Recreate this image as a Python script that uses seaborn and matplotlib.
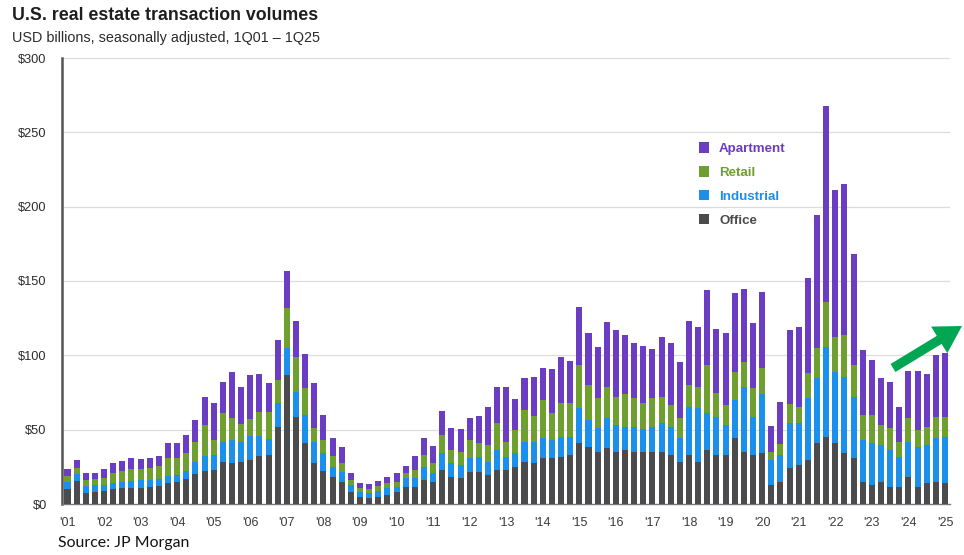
import numpy as np
import pandas as pd
import matplotlib
matplotlib.use("Agg")
import matplotlib.pyplot as plt
from matplotlib.patches import Patch
import seaborn as sns

# Quarterly transaction volumes, USD billions (1Q01 - 1Q25)
office = [10.0, 15.5, 7.5, 8.0, 8.5, 10.0, 11.0, 11.0, 11.0, 11.5, 12.0, 14.0, 15.0, 16.5, 20.0, 22.0,
          23.0, 28.5, 27.4, 28.5, 29.6, 32.0, 33.0, 52.0, 87.0, 58.8, 41.0, 27.4, 22.0, 18.4, 15.0, 8.3,
          5.0, 4.0, 5.0, 6.0, 8.3, 11.7, 11.7, 16.0, 15.0, 23.0, 18.4, 17.3, 21.8, 21.8, 19.5, 22.9,
          22.9, 25.0, 28.5, 27.4, 30.7, 30.7, 31.9, 33.0, 40.8, 38.6, 35.2, 37.5, 35.2, 36.0, 35.2, 35.2,
          35.2, 35.2, 33.0, 28.5, 33.0, 28.5, 36.3, 33.0, 33.0, 44.2, 35.2, 33.0, 34.0, 12.8, 15.0, 24.0,
          26.2, 29.6, 40.8, 45.3, 40.8, 34.0, 30.7, 15.0, 12.8, 15.0, 11.7, 11.7, 18.4, 11.7, 13.9, 15.0,
          13.9]
industrial = [5.0, 4.5, 4.5, 4.5, 4.0, 4.0, 4.0, 4.5, 5.0, 4.5, 5.0, 4.5, 4.5, 5.5, 8.0, 10.0,
              10.0, 13.5, 15.6, 13.5, 16.4, 14.0, 11.0, 15.7, 18.0, 16.8, 19.0, 14.6, 12.0, 6.6, 6.8, 4.5,
              3.3, 3.6, 4.0, 4.5, 3.4, 5.6, 5.6, 9.0, 5.6, 11.0, 9.0, 8.9, 8.9, 10.1, 9.0, 13.4,
              9.0, 9.0, 13.5, 14.6, 13.5, 12.3, 13.4, 12.3, 23.6, 17.9, 15.8, 20.1, 18.0, 16.0, 16.8, 15.0,
              16.8, 19.1, 19.0, 15.7, 32.5, 35.9, 24.7, 25.8, 20.2, 25.8, 43.8, 25.8, 40.0, 16.8, 18.0, 30.3,
              28.1, 42.0, 43.8, 60.6, 48.2, 51.7, 41.5, 28.0, 28.0, 24.7, 24.6, 20.2, 23.5, 26.9, 25.8, 29.2,
              31.4]
retail = [3.5, 4.0, 4.0, 4.0, 5.0, 7.0, 7.5, 8.0, 7.5, 8.0, 8.5, 12.5, 11.5, 12.0, 14.0, 21.0,
          10.0, 19.0, 14.6, 12.0, 11.0, 16.0, 18.0, 15.7, 26.7, 23.4, 18.0, 9.0, 9.0, 7.0, 5.6, 3.2,
          2.7, 2.4, 3.0, 3.9, 3.3, 3.3, 5.7, 8.0, 6.8, 12.4, 8.9, 9.0, 12.3, 8.9, 11.2, 18.0,
          10.1, 15.8, 21.3, 17.2, 25.8, 18.0, 22.4, 22.4, 29.1, 23.5, 20.1, 21.4, 19.0, 22.0, 19.1, 17.5,
          19.1, 17.9, 14.6, 13.4, 14.5, 14.6, 32.5, 15.7, 13.4, 19.0, 16.8, 19.0, 17.3, 5.6, 7.2, 12.7,
          11.2, 16.4, 20.2, 30.3, 23.6, 28.0, 21.3, 16.9, 19.1, 13.5, 14.6, 10.0, 15.7, 11.2, 12.3, 14.6,
          13.5]
apartment = [5.1, 5.6, 4.6, 4.1, 6.1, 6.4, 6.4, 7.2, 6.8, 6.7, 6.8, 9.8, 9.8, 12.2, 14.5, 19.0,
             24.7, 21.0, 31.4, 25.0, 30.0, 25.5, 19.7, 27.0, 25.3, 24.4, 23.0, 30.2, 17.0, 12.2, 10.9, 5.0,
             3.4, 3.5, 3.5, 4.0, 5.6, 5.0, 9.5, 11.6, 11.9, 16.4, 15.1, 15.0, 15.0, 18.5, 25.3, 24.7,
             36.5, 20.6, 21.3, 26.0, 21.7, 29.8, 31.0, 28.5, 38.8, 34.8, 34.3, 43.7, 44.8, 39.5, 37.5, 38.6,
             33.2, 39.8, 41.4, 38.2, 43.4, 39.9, 50.5, 43.0, 48.7, 52.8, 48.7, 43.8, 51.6, 17.3, 28.2, 50.0,
             53.8, 64.3, 89.7, 131.2, 98.7, 101.4, 74.5, 43.7, 37.0, 31.4, 31.0, 23.6, 31.9, 39.7, 35.3, 41.5,
             43.0]

quarters = [f"{q}Q{y:02d}" for y in range(1, 26) for q in range(1, 5)][:len(office)]
year_labels = ["'01", "'02", "'03", "'04", "'05", "'06", "'07", "'08", "'09", "'10", "'11", "'12",
               "'13", "'14", "'15", "'16", "'17", "'18", "'19", "'20", "'21", "'22", "'23", "'24", "'25"]
y_ticks = [0, 50, 100, 150, 200, 250, 300]

series = ["Office", "Industrial", "Retail", "Apartment"]
colors = {"Office": "#4b4b4d", "Industrial": "#1a90ec", "Retail": "#6e9f2f", "Apartment": "#6a3dc2"}

df = pd.DataFrame({"quarter": quarters, "Office": office, "Industrial": industrial,
                   "Retail": retail, "Apartment": apartment})
cum = df[series].cumsum(axis=1)
for s in series:
    df["top_" + s] = cum[s]

sns.set_theme(style="white")
plt.rcParams["font.family"] = ["Liberation Sans", "DejaVu Sans"]

W, H = 964, 555
fig = plt.figure(figsize=(W / 100, H / 100), dpi=100)
ax = fig.add_axes([62 / W, 1 - 504 / H, (950 - 62) / W, (504 - 58) / H])

# stacked bars: draw cumulative totals from the top layer down
for s in reversed(series):
    sns.barplot(data=df, x="quarter", y="top_" + s, order=quarters, color=colors[s],
                width=0.66, linewidth=0, saturation=1, ax=ax, zorder=3)

ax.set_xlim(-0.6, len(quarters) - 0.45)
ax.set_ylim(0, 300)
ax.set_xlabel("")
ax.set_ylabel("")

ax.set_yticks(y_ticks)
ax.set_yticklabels([f"${v}" for v in y_ticks], fontsize=9.2, color="#2b2b2b")
ax.tick_params(axis="y", length=0, pad=11)
for v in y_ticks[1:]:
    ax.axhline(v, color="#dcdcdc", lw=0.9, zorder=1)

ax.set_xticks(list(range(0, len(quarters), 4)))
ax.set_xticklabels(year_labels, fontsize=9, color="#3a3a3a")
ax.tick_params(axis="x", length=4, width=0.8, color="#777777", pad=5, direction="out")

for side in ["top", "right"]:
    ax.spines[side].set_visible(False)
ax.spines["left"].set_color("#555555")
ax.spines["left"].set_linewidth(1.8)
ax.spines["bottom"].set_color("#777777")
ax.spines["bottom"].set_linewidth(1.0)

# legend, top series first
handles = [Patch(facecolor=colors[s], edgecolor="none") for s in reversed(series)]
leg = fig.legend(handles, list(reversed(series)), loc="upper left",
                 bbox_to_anchor=(687 / W, 1 - 130 / H), frameon=False,
                 handlelength=0.75, handleheight=0.85, handletextpad=0.75, labelspacing=0.82,
                 prop={"size": 9.6, "weight": "bold"})
for txt, s in zip(leg.get_texts(), reversed(series)):
    txt.set_color(colors[s])

# titles
fig.text(12 / W, 1 - 16 / H, "U.S. real estate transaction volumes", fontsize=12.8,
         fontweight="bold", color="#1e1e1e", va="center", ha="left")
fig.text(12 / W, 1 - 38 / H, "USD billions, seasonally adjusted, 1Q01 \u2013 1Q25", fontsize=10.4,
         color="#2b2b2b", va="center", ha="left")
fig.text(58 / W, 1 - 543 / H, "Source: JP Morgan", fontsize=11.4, family="Lato",
         color="#111111", va="center", ha="left")

# upward trend arrow
ax.annotate("", xy=(962 / W, 1 - 326 / H), xytext=(893 / W, 1 - 368 / H),
            xycoords="figure fraction", textcoords="figure fraction",
            arrowprops=dict(arrowstyle="simple,head_length=1.2,head_width=1.4,tail_width=0.42",
                            color="#00a651", lw=0, shrinkA=0, shrinkB=0, mutation_scale=16),
            annotation_clip=False)

fig.savefig("out.png", dpi=100, facecolor="white")
